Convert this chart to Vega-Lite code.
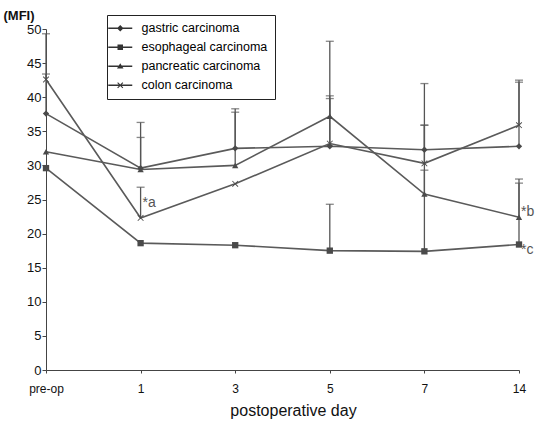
{
  "$schema": "https://vega.github.io/schema/vega-lite/v6.json",
  "width": 473,
  "height": 341,
  "autosize": {"type": "none"},
  "padding": {"left": 46, "top": 29, "right": 18, "bottom": 52},
  "background": "white",
  "config": {
    "font": "Liberation Sans",
    "view": {"stroke": null},
    "axis": {"grid": false, "domainColor": "#444", "tickColor": "#444", "labelColor": "#111", "titleColor": "#111"}
  },
  "datasets": {
    "main": [
      {"series": "gastric carcinoma", "day": "pre-op", "mean": 37.6, "upper": 49.3},
      {"series": "gastric carcinoma", "day": "1", "mean": 29.6, "upper": 36.3},
      {"series": "gastric carcinoma", "day": "3", "mean": 32.5, "upper": 38.3},
      {"series": "gastric carcinoma", "day": "5", "mean": 32.8, "upper": 39.8},
      {"series": "gastric carcinoma", "day": "7", "mean": 32.3, "upper": 35.9},
      {"series": "gastric carcinoma", "day": "14", "mean": 32.8, "upper": 42.5},
      {"series": "esophageal carcinoma", "day": "pre-op", "mean": 29.6, "upper": null},
      {"series": "esophageal carcinoma", "day": "1", "mean": 18.6, "upper": null},
      {"series": "esophageal carcinoma", "day": "3", "mean": 18.3, "upper": null},
      {"series": "esophageal carcinoma", "day": "5", "mean": 17.5, "upper": 24.3},
      {"series": "esophageal carcinoma", "day": "7", "mean": 17.4, "upper": 29.3},
      {"series": "esophageal carcinoma", "day": "14", "mean": 18.4, "upper": 27.4},
      {"series": "pancreatic carcinoma", "day": "pre-op", "mean": 32.0, "upper": null},
      {"series": "pancreatic carcinoma", "day": "1", "mean": 29.4, "upper": 34.1},
      {"series": "pancreatic carcinoma", "day": "3", "mean": 30.0, "upper": 37.8},
      {"series": "pancreatic carcinoma", "day": "5", "mean": 37.2, "upper": 48.2},
      {"series": "pancreatic carcinoma", "day": "7", "mean": 25.8, "upper": 42.0},
      {"series": "pancreatic carcinoma", "day": "14", "mean": 22.4, "upper": 28.0},
      {"series": "colon carcinoma", "day": "pre-op", "mean": 42.6, "upper": 43.4},
      {"series": "colon carcinoma", "day": "1", "mean": 22.3, "upper": 26.8},
      {"series": "colon carcinoma", "day": "3", "mean": 27.3, "upper": null},
      {"series": "colon carcinoma", "day": "5", "mean": 33.2, "upper": 40.2},
      {"series": "colon carcinoma", "day": "7", "mean": 30.3, "upper": 35.9},
      {"series": "colon carcinoma", "day": "14", "mean": 35.9, "upper": 42.2}
    ],
    "notes": [
      {"day": "1", "pos": 24.5, "label": "*a"},
      {"day": "14", "pos": 23.2, "label": "*b"},
      {"day": "14", "pos": 17.6, "label": "*c"}
    ]
  },
  "encoding": {
    "x": {
      "field": "day", "type": "ordinal",
      "sort": ["pre-op", "1", "3", "5", "7", "14"],
      "scale": {"type": "point", "padding": 0},
      "axis": {
        "title": "postoperative day", "titleFontSize": 16, "titleFontWeight": "normal",
        "titleX": 247, "titleY": 32, "titleBaseline": "top",
        "labelAngle": 0, "labelFontSize": 12, "labelPadding": 10, "tickSize": 3
      }
    }
  },
  "layer": [
    {
      "data": {"name": "main"},
      "transform": [{"filter": "datum.upper != null"}],
      "mark": {"type": "rule", "color": "#555", "strokeWidth": 1.3},
      "encoding": {
        "y": {
          "field": "mean", "type": "quantitative",
          "scale": {"domain": [0, 50], "nice": false},
          "axis": {
            "title": "(MFI)", "titleAngle": 0, "titleAlign": "left", "titleBaseline": "alphabetic",
            "titleX": -43, "titleY": -10, "titleFontSize": 13, "titleFontWeight": "bold",
            "values": [0, 5, 10, 15, 20, 25, 30, 35, 40, 45, 50], "labelOverlap": false,
            "labelFontSize": 13, "labelPadding": 1, "tickSize": 4
          }
        },
        "y2": {"field": "upper"}
      }
    },
    {
      "data": {"name": "main"},
      "transform": [{"filter": "datum.upper != null"}],
      "mark": {"type": "tick", "orient": "horizontal", "color": "#555", "size": 8, "thickness": 1.3},
      "encoding": {
        "y": {"field": "upper", "type": "quantitative",
          "axis": {
            "title": "(MFI)", "titleAngle": 0, "titleAlign": "left", "titleBaseline": "alphabetic",
            "titleX": -43, "titleY": -10, "titleFontSize": 13, "titleFontWeight": "bold",
            "values": [0, 5, 10, 15, 20, 25, 30, 35, 40, 45, 50], "labelOverlap": false,
            "labelFontSize": 13, "labelPadding": 1, "tickSize": 4
          }}
      }
    },
    {
      "data": {"name": "main"},
      "mark": {"type": "line", "color": "#5a5a5a", "strokeWidth": 1.6},
      "encoding": {
        "detail": {"field": "series"},
        "y": {"field": "mean", "type": "quantitative",
          "axis": {
            "title": "(MFI)", "titleAngle": 0, "titleAlign": "left", "titleBaseline": "alphabetic",
            "titleX": -43, "titleY": -10, "titleFontSize": 13, "titleFontWeight": "bold",
            "values": [0, 5, 10, 15, 20, 25, 30, 35, 40, 45, 50], "labelOverlap": false,
            "labelFontSize": 13, "labelPadding": 1, "tickSize": 4
          }}
      }
    },
    {
      "data": {"name": "main"},
      "mark": {"type": "point", "filled": true, "color": "#4a4a4a", "size": 40, "opacity": 1},
      "encoding": {
        "y": {"field": "mean", "type": "quantitative",
          "axis": {
            "title": "(MFI)", "titleAngle": 0, "titleAlign": "left", "titleBaseline": "alphabetic",
            "titleX": -43, "titleY": -10, "titleFontSize": 13, "titleFontWeight": "bold",
            "values": [0, 5, 10, 15, 20, 25, 30, 35, 40, 45, 50], "labelOverlap": false,
            "labelFontSize": 13, "labelPadding": 1, "tickSize": 4
          }},
        "shape": {
          "field": "series", "type": "nominal",
          "scale": {
            "domain": ["gastric carcinoma", "esophageal carcinoma", "pancreatic carcinoma", "colon carcinoma"],
            "range": ["diamond", "square", "triangle-up", "M-1,-0.8L-0.8,-1L0,-0.2L0.8,-1L1,-0.8L0.2,0L1,0.8L0.8,1L0,0.2L-0.8,1L-1,0.8L-0.2,0Z"]
          },
          "legend": null
        }
      }
    },
    {
      "data": {"name": "main"},
      "transform": [{"filter": "false"}],
      "mark": {"type": "point", "filled": true, "color": "#333", "size": 100, "opacity": 1},
      "encoding": {
        "y": {"field": "mean", "type": "quantitative",
          "axis": {
            "title": "(MFI)", "titleAngle": 0, "titleAlign": "left", "titleBaseline": "alphabetic",
            "titleX": -43, "titleY": -10, "titleFontSize": 13, "titleFontWeight": "bold",
            "values": [0, 5, 10, 15, 20, 25, 30, 35, 40, 45, 50], "labelOverlap": false,
            "labelFontSize": 13, "labelPadding": 1, "tickSize": 4
          }},
        "shape": {
          "field": "series", "type": "nominal",
          "scale": {
            "domain": ["gastric carcinoma", "esophageal carcinoma", "pancreatic carcinoma", "colon carcinoma"],
            "range": [
              "M-2.4,-0.15L2.4,-0.15L2.4,0.15L-2.4,0.15ZM0,-0.65L0.65,0L0,0.65L-0.65,0Z",
              "M-2.4,-0.15L2.4,-0.15L2.4,0.15L-2.4,0.15ZM-0.55,-0.55L0.55,-0.55L0.55,0.55L-0.55,0.55Z",
              "M-2.4,-0.15L2.4,-0.15L2.4,0.15L-2.4,0.15ZM0,-0.6L0.65,0.45L-0.65,0.45Z",
              "M-2.4,-0.15L2.4,-0.15L2.4,0.15L-2.4,0.15ZM-0.6,-0.45L-0.45,-0.6L0,-0.15L0.45,-0.6L0.6,-0.45L0.15,0L0.6,0.45L0.45,0.6L0,0.15L-0.45,0.6L-0.6,0.45L-0.15,0Z"
            ]
          },
          "legend": {
            "title": null, "orient": "none", "legendX": 61, "legendY": -14,
            "strokeColor": "#222", "fillColor": "white", "padding": 7,
            "labelFontSize": 12.5, "labelOffset": 15, "rowPadding": 6, "symbolSize": 100,
            "symbolFillColor": "#333", "symbolStrokeWidth": 0,
            "labelLimit": 200, "offset": 0,
            "encode": {
              "symbols": {"update": {"fill": {"value": "#333"}, "opacity": {"value": 1}}},
              "labels": {"update": {"fill": {"signal": "datum.index < 2 ? '#111' : '#777'"}}}
            }
          }
        }
      }
    },
    {
      "data": {"name": "notes"},
      "mark": {"type": "text", "align": "left", "baseline": "middle", "dx": 2, "fontSize": 14, "color": "#555"},
      "encoding": {
        "y": {"field": "pos", "type": "quantitative",
          "axis": {
            "title": "(MFI)", "titleAngle": 0, "titleAlign": "left", "titleBaseline": "alphabetic",
            "titleX": -43, "titleY": -10, "titleFontSize": 13, "titleFontWeight": "bold",
            "values": [0, 5, 10, 15, 20, 25, 30, 35, 40, 45, 50], "labelOverlap": false,
            "labelFontSize": 13, "labelPadding": 1, "tickSize": 4
          }},
        "text": {"field": "label"}
      }
    }
  ],
  "resolve": {"scale": {"shape": "independent"}, "legend": {"shape": "independent"}}
}
